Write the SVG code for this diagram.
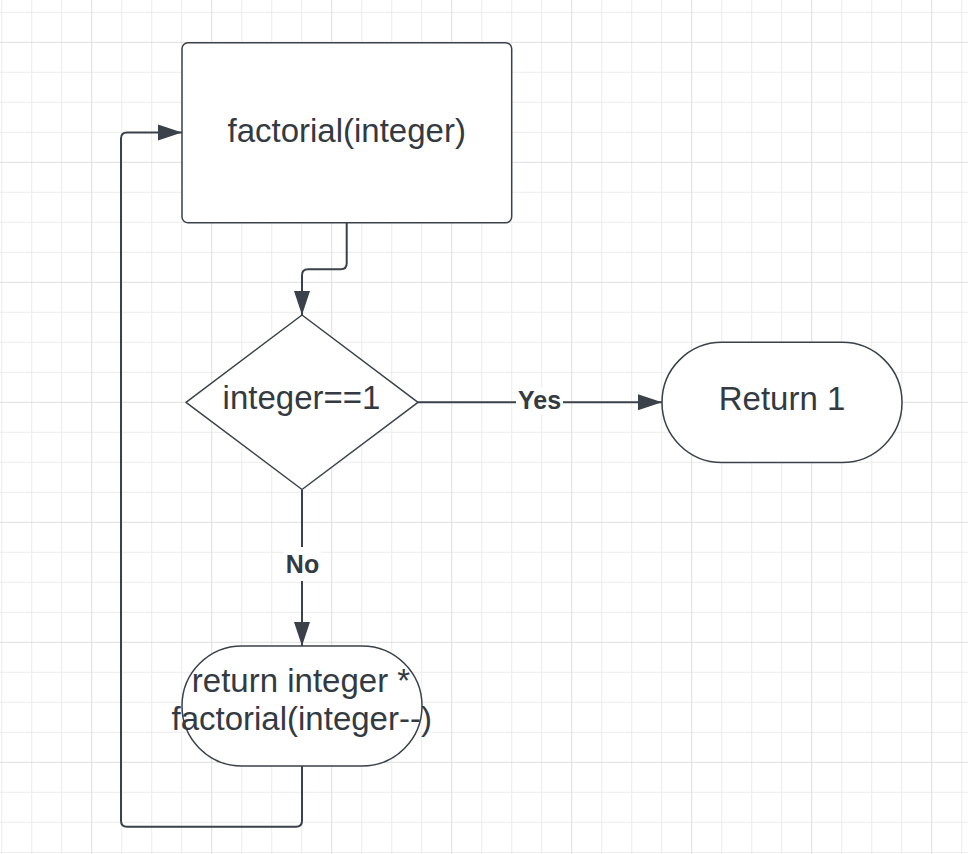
<svg xmlns="http://www.w3.org/2000/svg" width="968" height="854" viewBox="0 0 968 854">
  <style>
    .shape { fill: #ffffff; stroke: #3a414a; stroke-width: 1.5; }
    .edge { fill: none; stroke: #3a414a; stroke-width: 2; }
    .txt { font-family: "Liberation Sans", Arial, sans-serif; font-size: 33px; fill: #333a42; text-anchor: middle; }
    .lbl { font-family: "Liberation Sans", Arial, sans-serif; font-size: 25px; font-weight: bold; fill: #333a42; text-anchor: middle; }
  </style>
  <defs>
    <pattern id="grid" x="91.2" y="41.8" width="120" height="120" patternUnits="userSpaceOnUse">
      <g stroke="#ececec" stroke-width="1">
        <path d="M30.5 0V120M60.5 0V120M90.5 0V120M0 30.5H120M0 60.5H120M0 90.5H120"/>
      </g>
      <path d="M0.5 0V120M0 0.5H120" stroke="#dedede" stroke-width="1"/>
    </pattern>
    <marker id="arrow" markerUnits="userSpaceOnUse" markerWidth="24" markerHeight="16" refX="24" refY="8" orient="auto" overflow="visible">
      <path d="M0,0 L24,8 L0,16 z" fill="#3a414a"/>
    </marker>
  </defs>
  <rect width="968" height="854" fill="#ffffff"/>
  <rect width="968" height="854" fill="url(#grid)"/>

  <g id="connectors">
    <path class="edge" d="M346.7 223 V263.3 Q346.7 269.3 340.7 269.3 H308 Q302 269.3 302 275.3 V315" marker-end="url(#arrow)"/>
    <path class="edge" d="M418 402.3 H662" marker-end="url(#arrow)"/>
    <path class="edge" d="M302 490 V646" marker-end="url(#arrow)"/>
    <path class="edge" d="M302 766 V820.7 Q302 826.7 296 826.7 H127 Q121 826.7 121 820.7 V138.5 Q121 132.5 127 132.5 H182" marker-end="url(#arrow)"/>
    <g id="label-yes">
      <rect x="516" y="388" width="47" height="26" fill="#ffffff"/>
      <text class="lbl" x="539.5" y="409">Yes</text>
    </g>
    <g id="label-no">
      <rect x="284" y="547" width="37" height="34" fill="#ffffff"/>
      <text class="lbl" x="302.5" y="573">No</text>
    </g>
  </g>

  <g id="node-factorial">
    <rect class="shape" x="182" y="42.7" width="329.7" height="180" rx="6" ry="6"/>
    <text class="txt" x="346.7" y="142">factorial(integer)</text>
  </g>

  <g id="node-decision">
    <polygon class="shape" stroke-linejoin="round" points="302,315 418,402.3 302,489.5 186,402.3"/>
    <text class="txt" x="301.5" y="409.3">integer==1</text>
  </g>

  <g id="node-return1">
    <rect class="shape" x="662" y="342.3" width="240" height="120.3" rx="60" ry="60"/>
    <text class="txt" x="782" y="410">Return 1</text>
  </g>

  <g id="node-recurse">
    <rect class="shape" x="182" y="646" width="240" height="120" rx="60" ry="60"/>
    <text class="txt" x="301" y="691.7">return integer *</text>
    <text class="txt" x="301.7" y="730">factorial(integer--)</text>
  </g>
</svg>
